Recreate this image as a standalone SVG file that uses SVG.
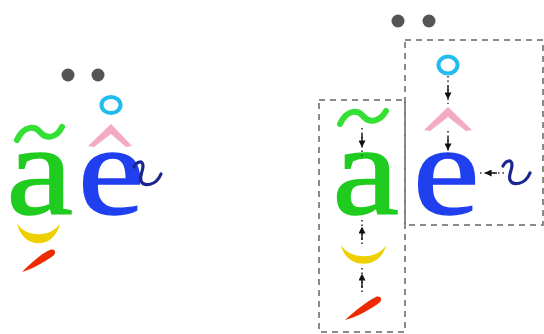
<svg xmlns="http://www.w3.org/2000/svg" width="544" height="334" viewBox="0 0 544 334">
<defs>
<style>
.letter{font-family:"Liberation Serif","Times New Roman",serif;font-size:130px;stroke-width:1.6}
.ga{fill:#1fcc1f;stroke:#1fcc1f}
.be{fill:#2040f0;stroke:#2040f0}
.dot{fill:#555}
.ring{fill:none;stroke:#22bbee;stroke-width:4}
.circ{fill:#f4aac4}
.tilde{fill:none;stroke:#33e033;stroke-width:6;stroke-linecap:round}
.hook{fill:none;stroke:#1a2590;stroke-width:3.2;stroke-linecap:round}
.breve{fill:#eed000}
.acute{fill:#ee2a00}
.box{fill:none;stroke:#666;stroke-width:1.5;stroke-dasharray:6 5}
.dl{stroke:#333;stroke-width:1.6;stroke-dasharray:1.5 3;fill:none}
.ar{stroke:#111;stroke-width:1.4;fill:none;marker-end:url(#ah)}
</style>
<marker id="ah" viewBox="0 0 10 10" refX="8" refY="5" markerWidth="5" markerHeight="5" orient="auto"><path d="M0,0 L10,5 L0,10 Z" fill="#111"/></marker>
</defs>

<!-- LEFT composed letters -->
<g id="left-dots"><circle class="dot" cx="68" cy="75" r="6.5"/><circle class="dot" cx="98" cy="75" r="6.5"/></g>
<g id="left-ring"><ellipse class="ring" cx="111" cy="105" rx="9.5" ry="8"/></g>
<g id="left-circumflex"><path class="circ" d="M88,146 L111,124 L132,146 L126,147 L111,134 L94,147 Z"/></g>
<g id="left-tilde"><path class="tilde" d="M17,140 C24,125 35,126 40,132 C46,139 56,139 62,127"/></g>
<g id="left-a"><text class="letter ga" transform="translate(6.5,214) scale(1.15,1)">a</text></g>
<g id="left-e"><text class="letter be" transform="translate(78,214) scale(1.15,1)">e</text></g>
<g id="left-hook"><path class="hook" d="M134,167 C137,161 143,160 143,166 C143,172 139,176 141,181 C144,187 156,186 161,174"/></g>
<g id="left-breve"><path class="breve" d="M17,223 C22,250 55,250 60,223 C52,238 25,238 17,223 Z"/></g>
<g id="left-acute"><path class="acute" d="M22,272 C32,262 42,253 50,250 C55,248 57,253 53,256 C43,263 32,269 22,272 Z"/></g>

<!-- RIGHT decomposition -->
<g id="right-dots"><circle class="dot" cx="398" cy="21" r="6.5"/><circle class="dot" cx="429" cy="21" r="6.5"/></g>
<g id="box-e"><rect class="box" x="405" y="40" width="138" height="185"/></g>
<g id="box-a"><rect class="box" x="319" y="100" width="86" height="232"/></g>
<g id="right-ring"><ellipse class="ring" cx="448" cy="65" rx="9.5" ry="8.5"/></g>
<g id="right-circumflex"><path class="circ" d="M424,130 L448,107 L472,130 L466,131 L448,117 L430,131 Z"/></g>
<g id="right-e"><text class="letter be" transform="translate(413,214) scale(1.15,1)">e</text></g>
<g id="right-hook"><path class="hook" d="M503,166 C506,160 512,159 512,165 C512,171 508,175 510,180 C513,186 525,185 530,173"/></g>
<g id="right-tilde"><path class="tilde" d="M340,124 C347,109 358,110 363,116 C369,123 379,123 386,111"/></g>
<g id="right-a"><text class="letter ga" transform="translate(332.5,214) scale(1.15,1)">a</text></g>
<g id="right-breve"><path class="breve" d="M341,245 C346,270 381,270 386,245 C378,260 350,260 341,245 Z"/></g>
<g id="right-acute"><path class="acute" d="M345,320 C355,311 367,301 376,297 C381,295 383,300 379,303 C368,311 356,317 345,320 Z"/></g>

<g id="connectors">
<line class="dl" x1="448" y1="76" x2="448" y2="104"/>
<line class="ar" x1="448" y1="86" x2="448" y2="98"/>
<line class="dl" x1="448" y1="131" x2="448" y2="155"/>
<line class="ar" x1="448" y1="137" x2="448" y2="149"/>
<line class="dl" x1="362" y1="128" x2="362" y2="156"/>
<line class="ar" x1="362" y1="134" x2="362" y2="146"/>
<line class="dl" x1="362" y1="220" x2="362" y2="245"/>
<line class="ar" x1="362" y1="240" x2="362" y2="228"/>
<line class="dl" x1="362" y1="268" x2="362" y2="295"/>
<line class="ar" x1="362" y1="288" x2="362" y2="275"/>
<line class="dl" x1="480" y1="173" x2="504" y2="173"/>
<line class="ar" x1="497" y1="173" x2="486" y2="173"/>
</g>
</svg>
